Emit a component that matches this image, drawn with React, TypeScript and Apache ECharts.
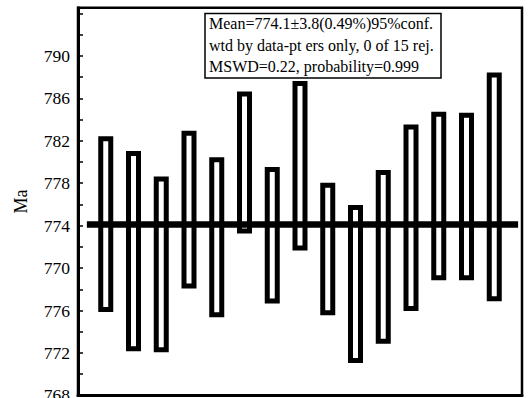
import React, { useEffect, useRef } from "react";
import * as echarts from "echarts";

// Box index (x position), lower and upper error limits (Ma, in axis units)
const boxIndex = [1, 2, 3, 4, 5, 6, 7, 8, 9, 10, 11, 12, 13, 14, 15];
const lowValues = [766.1, 762.4, 762.3, 768.3, 765.6, 773.5, 766.9, 771.9, 765.8, 761.3, 763.1, 766.2, 769.1, 769.1, 767.1];
const highValues = [782.2, 780.8, 778.4, 782.7, 780.2, 786.4, 779.3, 787.4, 777.8, 775.7, 779.0, 783.3, 784.5, 784.4, 788.2];

const meanValue = 774.1;
const meanLineX = [0.32, 15.86];

// Tick values and the labels printed at them (as in the original figure)
const tickValues = [758, 762, 766, 770, 774, 778, 782, 786, 790];
const tickLabels = ["768", "772", "776", "770", "774", "778", "782", "786", "790"];

const boxTexts = [
  "Mean=774.1\u00b13.8(0.49%)95%conf.",
  "wtd by data-pt ers only, 0 of 15 rej.",
  "MSWD=0.22, probability=0.999",
];

const FONT = "Liberation Serif";

export default function App() {
  const ref = useRef<HTMLDivElement>(null);
  useEffect(() => {
    if (!ref.current) return;
    const chart = echarts.init(ref.current, null, { renderer: "svg" });
    const boxData = boxIndex.map((x, i) => [x, lowValues[i], highValues[i]]);
    chart.setOption({
      animation: false,
      backgroundColor: "#ffffff",
      grid: {
        left: 78,
        right: 9,
        top: 7.7,
        bottom: 2.6,
        outerBoundsMode: "none",
        containLabel: false,
        show: true,
        borderColor: "#000",
        borderWidth: 2.5,
        backgroundColor: "transparent",
      },
      xAxis: {
        type: "value",
        min: 0,
        max: 16,
        axisLine: { show: true, lineStyle: { color: "#000", width: 3 } },
        axisTick: { show: false },
        axisLabel: { show: false },
        splitLine: { show: false },
      },
      yAxis: {
        type: "value",
        min: 758,
        max: 794.54,
        interval: 2,
        name: "Ma",
        nameLocation: "middle",
        nameGap: 48,
        nameTextStyle: { fontFamily: FONT, fontSize: 18, color: "#000" },
        axisLine: { show: true, lineStyle: { color: "#000", width: 3 } },
        axisTick: { show: true, inside: true, length: 5, lineStyle: { color: "#000", width: 1.5 } },
        axisLabel: {
          show: true,
          margin: 8,
          color: "#000",
          fontFamily: FONT,
          fontSize: 17.5,
          showMaxLabel: false,
          formatter: (v: number) => {
            const idx = tickValues.findIndex((t) => Math.abs(t - v) < 1e-6);
            return idx >= 0 ? tickLabels[idx] : "";
          },
        },
        splitLine: { show: false },
      },
      series: [
        {
          type: "custom",
          data: boxData,
          renderItem: (params: any, api: any) => {
            const x = api.value(0);
            const lo = api.value(1);
            const hi = api.value(2);
            const pHi = api.coord([x, hi]);
            const pLo = api.coord([x, lo]);
            const w = 10;
            return {
              type: "rect",
              shape: { x: pHi[0] - w / 2, y: pHi[1], width: w, height: pLo[1] - pHi[1] },
              style: { fill: "none", stroke: "#000", lineWidth: 5 },
            };
          },
          z: 2,
        },
        {
          type: "line",
          data: meanLineX.map((x) => [x, meanValue]),
          symbol: "none",
          lineStyle: { color: "#000", width: 6.5 },
          z: 3,
        },
      ],
      graphic: [
        {
          type: "group",
          z: 100,
          children: [
            {
              type: "rect",
              shape: { x: 205, y: 13.5, width: 236, height: 64.5 },
              style: { fill: "#fff", stroke: "#000", lineWidth: 1.5 },
            },
            ...boxTexts.map((t, i) => ({
              type: "text",
              x: 209,
              y: 23.5 + i * 21.7,
              style: {
                text: t,
                fontFamily: FONT,
                fontSize: 16,
                fill: "#000",
                verticalAlign: "middle",
              },
            })),
          ],
        },
      ],
    });
    return () => chart.dispose();
  }, []);
  return (
    <div
      ref={ref}
      style={{ position: "fixed", left: 0, top: 0, width: 531, height: 398, background: "#fff" }}
    />
  );
}
